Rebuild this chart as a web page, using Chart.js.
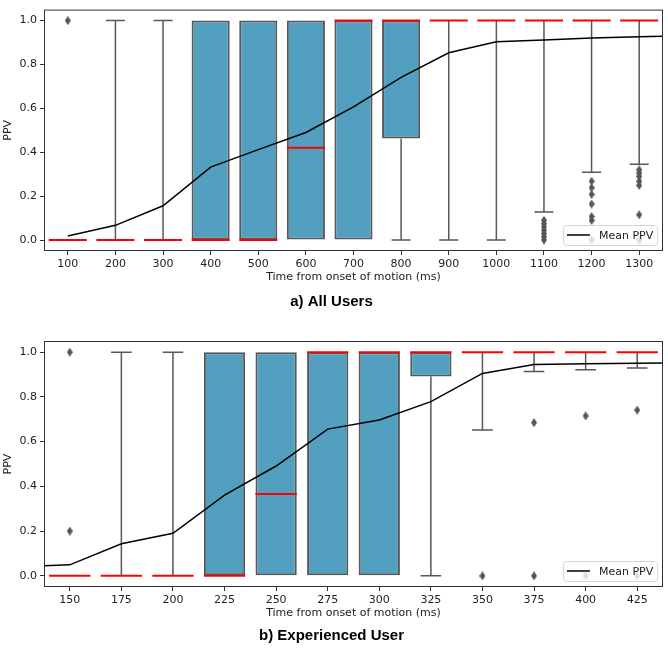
<!DOCTYPE html>
<html>
<head>
<meta charset="utf-8">
<title>PPV over time</title>
<script src="https://cdn.jsdelivr.net/npm/chart.js@4.4.1/dist/chart.umd.min.js"></script>
<style>
  html, body { margin: 0; padding: 0; background: #fff; }
  .panel { position: relative; width: 668px; height: 326px; }
</style>
</head>
<body>
<div class="panel"><canvas id="chartA" width="668" height="326"></canvas></div>
<div class="panel"><canvas id="chartB" width="668" height="326"></canvas></div>
<script>
// ---- a) All Users ----
const timesA = [100, 200, 300, 400, 500, 600, 700, 800, 900, 1000, 1100, 1200, 1300];
const q1A    = [0, 0, 0, 0, 0, 0, 0, 0.463, 1, 1, 1, 1, 1];
const medA   = [0, 0, 0, 0, 0, 0.42, 1, 1, 1, 1, 1, 1, 1];
const q3A    = [0, 0, 0, 1, 1, 1, 1, 1, 1, 1, 1, 1, 1];
const loA    = [0, 0, 0, 0, 0, 0, 0, 0, 0, 0, 0.128, 0.309, 0.345];
const hiA    = [0, 1, 1, 1, 1, 1, 1, 1, 1, 1, 1, 1, 1];
const fliersA = [[1.0], [], [], [], [], [], [], [], [], [],
  [0, 0.015, 0.03, 0.045, 0.06, 0.075, 0.09],
  [0, 0.089, 0.107, 0.164, 0.208, 0.238, 0.268],
  [0, 0.115, 0.249, 0.268, 0.29, 0.305, 0.32]];
// mean line runs one step past the last box
const meanTimesA = [100, 200, 300, 400, 500, 600, 700, 800, 900, 1000, 1100, 1200, 1300, 1400];
const meanA      = [0.018, 0.067, 0.156, 0.332, 0.412, 0.49, 0.607, 0.741, 0.853, 0.903, 0.912, 0.921, 0.926, 0.932];

// ---- b) Experienced User ----
const timesB = [150, 175, 200, 225, 250, 275, 300, 325, 350, 375, 400, 425];
const q1B    = [0, 0, 0, 0, 0, 0, 0, 0.891, 1, 1, 1, 1];
const medB   = [0, 0, 0, 0, 0.366, 1, 1, 1, 1, 1, 1, 1];
const q3B    = [0, 0, 0, 1, 1, 1, 1, 1, 1, 1, 1, 1];
const loB    = [0, 0, 0, 0, 0, 0, 0, 0, 0.652, 0.914, 0.922, 0.929];
const hiB    = [0, 1, 1, 1, 1, 1, 1, 1, 1, 1, 1, 1];
const fliersB = [[1.0, 0.2], [], [], [], [], [], [], [], [0], [0, 0.685], [0, 0.715], [0, 0.741]];
// mean line starts one step before the first box and ends one after the last
const meanTimesB = [125, 150, 175, 200, 225, 250, 275, 300, 325, 350, 375, 400, 425, 450];
const meanB      = [0.041, 0.049, 0.143, 0.19, 0.361, 0.491, 0.656, 0.697, 0.779, 0.905, 0.945, 0.948, 0.951, 0.953];

const yTicks = [0, 0.2, 0.4, 0.6, 0.8, 1.0];

const BOX_COLOR = '#529fbf';
const EDGE = '#575757';
const TICK_FONT = { family: 'DejaVu Sans', size: 11 };

// thin diamond used for the outliers
function makeDiamond() {
    const c = document.createElement('canvas');
    c.width = 6;
    c.height = 9;
    const g = c.getContext('2d');
    g.fillStyle = '#555';
    g.beginPath();
    g.moveTo(3, 0);
    g.lineTo(6, 4.5);
    g.lineTo(3, 9);
    g.lineTo(0, 4.5);
    g.closePath();
    g.fill();
    return c;
}
const diamond = makeDiamond();

// turn a list of [x1,y1,x2,y2] pieces into one gapped line
function segs(list) {
    const out = [];
    list.forEach(s => {
        out.push({ x: s[0], y: s[1] }, { x: s[2], y: s[3] }, { x: s[2], y: null });
    });
    return out;
}

const frameAndLegend = {
    id: 'frameAndLegend',
    afterDatasetsDraw(chart) {
        const { ctx, chartArea: a } = chart;
        ctx.save();
        // axes box
        ctx.strokeStyle = '#333';
        ctx.lineWidth = 1;
        ctx.strokeRect(a.left + 0.5, a.top + 0.5, a.right - a.left - 1, a.bottom - a.top - 1);
        // legend, bottom right
        const ds = chart.data.datasets.find(d => d.isMean);
        const w = 94, h = 20;
        const x = a.right - 6 - w, y = a.bottom - 6 - h;
        ctx.beginPath();
        ctx.roundRect(x + 0.5, y + 0.5, w, h, 3);
        ctx.fillStyle = 'rgba(255,255,255,0.8)';
        ctx.fill();
        ctx.strokeStyle = '#d5d5d5';
        ctx.stroke();
        ctx.beginPath();
        ctx.moveTo(x + 4, y + h / 2);
        ctx.lineTo(x + 27, y + h / 2);
        ctx.strokeStyle = '#000';
        ctx.lineWidth = 1.5;
        ctx.stroke();
        ctx.font = '11px "DejaVu Sans"';
        ctx.fillStyle = '#222';
        ctx.textBaseline = 'middle';
        ctx.fillText(ds.label, x + 36, y + h / 2 + 1);
        ctx.restore();
    }
};

function makeChart(id, p) {
    const step = p.times[1] - p.times[0];
    const half = 0.4 * step, cap = 0.2 * step;

    const boxes = [];
    const whiskers = [];
    const medians = [];
    const fliers = [];
    p.times.forEach((t, i) => {
        if (p.q3[i] > p.q1[i]) boxes.push({ x: t, y: [p.q1[i], p.q3[i]] });
        if (p.lo[i] < p.q1[i]) {
            whiskers.push([t, p.lo[i], t, p.q1[i]]);
            whiskers.push([t - cap, p.lo[i], t + cap, p.lo[i]]);
        }
        if (p.hi[i] > p.q3[i]) {
            whiskers.push([t, p.q3[i], t, p.hi[i]]);
            whiskers.push([t - cap, p.hi[i], t + cap, p.hi[i]]);
        }
        medians.push([t - half, p.med[i], t + half, p.med[i]]);
        p.fliers[i].forEach(v => fliers.push({ x: t, y: v }));
    });

    return new Chart(document.getElementById(id), {
        type: 'bar',
        data: {
            datasets: [
                {
                    type: 'line', label: 'Mean PPV', isMean: true, order: 0,
                    data: p.meanTimes.map((t, i) => ({ x: t, y: p.mean[i] })),
                    borderColor: '#000', borderWidth: 1.5, pointRadius: 0, tension: 0
                },
                {
                    type: 'line', label: 'median', order: 1,
                    data: segs(medians), borderColor: '#ff0000', borderWidth: 2,
                    pointRadius: 0, spanGaps: false
                },
                {
                    type: 'line', label: 'outliers', order: 2,
                    data: fliers, showLine: false, pointStyle: diamond, pointRadius: 4
                },
                {
                    type: 'bar', label: 'box', order: 3,
                    data: boxes, backgroundColor: BOX_COLOR, borderColor: EDGE,
                    borderWidth: 2, borderSkipped: false,
                    barPercentage: 1, categoryPercentage: 0.8
                },
                {
                    type: 'line', label: 'whiskers', order: 4,
                    data: segs(whiskers), borderColor: EDGE, borderWidth: 1.5,
                    pointRadius: 0, spanGaps: false
                }
            ]
        },
        options: {
            responsive: false,
            animation: false,
            devicePixelRatio: 1,
            layout: { padding: { top: p.padTop, right: 5, left: 0, bottom: 0 } },
            plugins: {
                legend: { display: false },
                tooltip: { enabled: false },
                title: {
                    display: true, position: 'bottom', text: p.title, color: '#000',
                    font: { family: 'Liberation Sans', size: 15, weight: 'bold' },
                    padding: p.titlePad
                }
            },
            scales: {
                x: {
                    type: 'linear', offset: false,
                    min: p.times[0] - step / 2, max: p.times[p.times.length - 1] + step / 2,
                    afterBuildTicks: s => { s.ticks = p.times.map(v => ({ value: v })); },
                    afterFit: s => { s.height = 33; },
                    ticks: {
                        callback: v => String(v), autoSkip: false, maxRotation: 0,
                        font: TICK_FONT, color: '#222', padding: 3
                    },
                    grid: { drawOnChartArea: false, drawTicks: true, tickLength: 4, color: '#333', offset: false },
                    border: { display: false },
                    title: {
                        display: true, text: 'Time from onset of motion (ms)',
                        font: TICK_FONT, color: '#222', padding: { top: 0, bottom: 0 }
                    }
                },
                y: {
                    min: -0.05, max: 1.05,
                    afterBuildTicks: s => { s.ticks = yTicks.map(v => ({ value: v })); },
                    afterFit: s => { s.width = 44; },
                    ticks: { callback: v => v.toFixed(1), font: TICK_FONT, color: '#222', padding: 3 },
                    grid: { drawOnChartArea: false, drawTicks: true, tickLength: 4, color: '#333' },
                    border: { display: false },
                    title: {
                        display: true, text: 'PPV', font: TICK_FONT, color: '#222',
                        padding: { top: 2, bottom: 0 }
                    }
                }
            }
        },
        plugins: [frameAndLegend]
    });
}

makeChart('chartA', {
    times: timesA, q1: q1A, med: medA, q3: q3A, lo: loA, hi: hiA, fliers: fliersA,
    meanTimes: meanTimesA, mean: meanA, title: 'a) All Users',
    padTop: 5, titlePad: { top: 9, bottom: 15 }
});

makeChart('chartB', {
    times: timesB, q1: q1B, med: medB, q3: q3B, lo: loB, hi: hiB, fliers: fliersB,
    meanTimes: meanTimesB, mean: meanB, title: 'b) Experienced User',
    padTop: 15, titlePad: { top: 7, bottom: 7 }
});
</script>
</body>
</html>
